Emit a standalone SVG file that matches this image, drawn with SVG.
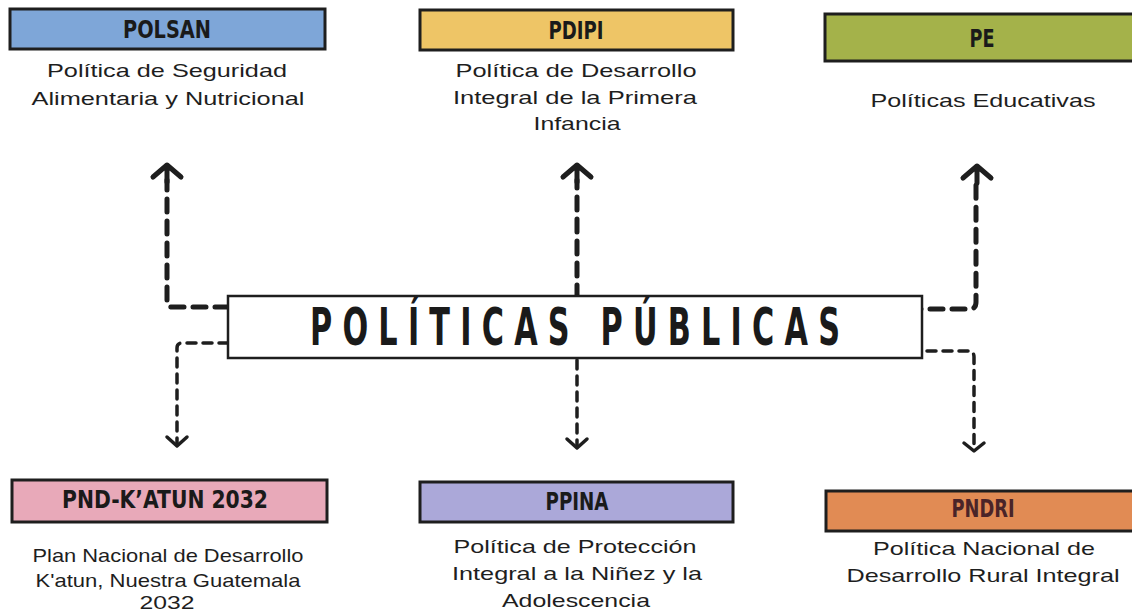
<svg xmlns="http://www.w3.org/2000/svg" width="1132" height="611" viewBox="0 0 1132 611">
<defs>
<style>
.box{stroke:#1e1e1e;stroke-width:3}
.lbl{font-family:"Liberation Sans Narrow","DejaVu Sans Condensed",sans-serif;font-weight:bold;font-size:25px;fill:#1a1a1a;text-anchor:middle}
.desc{font-family:"Liberation Sans",Arial,sans-serif;font-size:19px;fill:#1e1e1e;text-anchor:middle}
.title{font-family:"DejaVu Sans Condensed","Liberation Sans Narrow",sans-serif;font-weight:bold;font-size:51px;fill:#1a1a1a;text-anchor:middle}
.thick{fill:none;stroke:#1e1e1e;stroke-width:5;stroke-linecap:round;stroke-linejoin:round;stroke-dasharray:13 9}
.thin{fill:none;stroke:#1e1e1e;stroke-width:3.5;stroke-linecap:round;stroke-linejoin:round;stroke-dasharray:9 7}
.head{fill:none;stroke:#1e1e1e;stroke-linecap:round;stroke-linejoin:round}
</style>
</defs>
<rect width="1132" height="611" fill="#ffffff"/>

<g id="connectors">
<path class="thick" d="M228 307 L172 307 Q167 307 167 302 L167 180"/>
<path class="head" stroke-width="5" d="M153 177 L167 165 L181 177 M167 165 L167 182"/>
<path class="thin" d="M228 343 L182 343 Q177 343 177 348 L177 443"/>
<path class="head" stroke-width="3.5" d="M167 437 L177 446 L187 437"/>
<path class="thick" d="M577 298 L577 180"/>
<path class="head" stroke-width="5" d="M563 177 L577 165 L591 177 M577 165 L577 182"/>
<path class="thin" d="M577 360 L577 445"/>
<path class="head" stroke-width="3.5" d="M567 439 L577 448 L587 439"/>
<path class="thick" d="M908 309 L970 309 Q976 309 976 302 L976 180"/>
<path class="head" stroke-width="5" d="M963 178 L977 166 L991 178 M977 166 L977 183"/>
<path class="thin" d="M927 351 L968 351 Q974 351 974 357 L974 448"/>
<path class="head" stroke-width="3.5" d="M964 443 L974 451 L984 443"/>
</g>

<g id="center">
<rect x="228" y="296" width="694" height="62" fill="#ffffff" stroke="#1e1e1e" stroke-width="2.5"/>
<text class="title" transform="translate(575 345) scale(0.66 1)" x="0" y="0" textLength="803" lengthAdjust="spacing">POLÍTICAS PÚBLICAS</text>
</g>

<g id="polsan">
<rect class="box" x="10" y="9" width="315" height="40" fill="#7ea6d8"/>
<text class="lbl" x="167" y="38" textLength="88" lengthAdjust="spacingAndGlyphs">POLSAN</text>
<text class="desc" x="167" y="77" textLength="240" lengthAdjust="spacingAndGlyphs">Política de Seguridad</text>
<text class="desc" x="168" y="105" textLength="273" lengthAdjust="spacingAndGlyphs">Alimentaria y Nutricional</text>
</g>

<g id="pdipi">
<rect class="box" x="420" y="10" width="313" height="40" fill="#eec566"/>
<text class="lbl" x="576" y="39" textLength="55" lengthAdjust="spacingAndGlyphs">PDIPI</text>
<text class="desc" x="576" y="77" textLength="241" lengthAdjust="spacingAndGlyphs">Política de Desarrollo</text>
<text class="desc" x="575" y="104" textLength="244" lengthAdjust="spacingAndGlyphs">Integral de la Primera</text>
<text class="desc" x="577" y="130" textLength="87" lengthAdjust="spacingAndGlyphs">Infancia</text>
</g>

<g id="pe">
<rect class="box" x="825" y="14" width="312" height="47" fill="#a4b24a"/>
<text class="lbl" x="982" y="47" textLength="25" lengthAdjust="spacingAndGlyphs">PE</text>
<text class="desc" x="983" y="107" textLength="225" lengthAdjust="spacingAndGlyphs">Políticas Educativas</text>
</g>

<g id="pnd">
<rect class="box" x="12" y="480" width="315" height="42" fill="#e8a9b9"/>
<text class="lbl" x="165" y="508" textLength="206" lengthAdjust="spacingAndGlyphs">PND-K’ATUN 2032</text>
<text class="desc" x="168" y="562" style="font-size:18.5px" textLength="271" lengthAdjust="spacingAndGlyphs">Plan Nacional de Desarrollo</text>
<text class="desc" x="168" y="587" style="font-size:18.5px" textLength="265" lengthAdjust="spacingAndGlyphs">K'atun, Nuestra Guatemala</text>
<text class="desc" x="167" y="609" style="font-size:18.5px" textLength="55" lengthAdjust="spacingAndGlyphs">2032</text>
</g>

<g id="ppina">
<rect class="box" x="420" y="482" width="313" height="40" fill="#aba8d9"/>
<text class="lbl" x="577" y="510" textLength="63" lengthAdjust="spacingAndGlyphs">PPINA</text>
<text class="desc" x="575" y="553" textLength="243" lengthAdjust="spacingAndGlyphs">Política de Protección</text>
<text class="desc" x="577" y="580" textLength="250" lengthAdjust="spacingAndGlyphs">Integral a la Niñez y la</text>
<text class="desc" x="576" y="607" textLength="148" lengthAdjust="spacingAndGlyphs">Adolescencia</text>
</g>

<g id="pndri">
<rect class="box" x="826" y="491" width="312" height="40" fill="#e18b54"/>
<text class="lbl" x="983" y="517" style="fill:#4a2428" textLength="63" lengthAdjust="spacingAndGlyphs">PNDRI</text>
<text class="desc" x="984" y="555" textLength="222" lengthAdjust="spacingAndGlyphs">Política Nacional de</text>
<text class="desc" x="983" y="582" textLength="273" lengthAdjust="spacingAndGlyphs">Desarrollo Rural Integral</text>
</g>
</svg>
